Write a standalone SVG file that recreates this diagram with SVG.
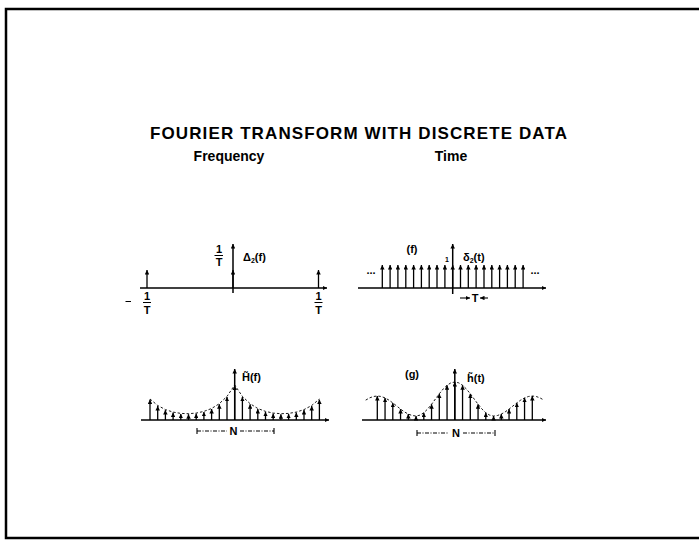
<svg xmlns="http://www.w3.org/2000/svg" width="699" height="540" viewBox="0 0 699 540">
<defs>
<marker id="ah" viewBox="0 0 6 6" refX="6" refY="3" markerWidth="4.5" markerHeight="4.5" markerUnits="userSpaceOnUse" orient="auto"><path d="M0,0 L6,3 L0,6 z" fill="#000"/></marker>
<style>
text{font-family:"Liberation Sans",Arial,sans-serif;font-weight:bold;fill:#000}
.ax{stroke:#000;stroke-width:1.5;fill:none;marker-end:url(#ah)}
.imp{stroke:#000;stroke-width:1.3;marker-end:url(#ah)}
.lbl{font-size:11px}
.frac{stroke:#000;stroke-width:1}
.env{fill:none;stroke:#000;stroke-width:0.9;stroke-dasharray:2.5 2}
.brk{stroke:#000;stroke-width:1.1;stroke-dasharray:4 1.5 1 1.5}
.tick{stroke:#000;stroke-width:1.1}
</style>
</defs>
<rect x="6" y="9" width="700" height="529" fill="#fff" stroke="#000" stroke-width="2.5"/>

<g id="title">
<text x="358.5" y="139" font-size="17" text-anchor="middle" textLength="417" lengthAdjust="spacing">FOURIER TRANSFORM WITH DISCRETE DATA</text>
<text x="229" y="161" font-size="14" text-anchor="middle">Frequency</text>
<text x="451" y="161" font-size="14" text-anchor="middle">Time</text>
<text class="lbl" x="412" y="253" text-anchor="middle">(f)</text>
<text class="lbl" x="412" y="378" text-anchor="middle">(g)</text>
</g>

<g id="delta-f">
<line class="ax" x1="140" y1="288" x2="327" y2="288"/>
<line class="ax" x1="233" y1="293" x2="233" y2="244"/>
<line class="imp" x1="147" y1="288" x2="147" y2="270"/>
<line class="imp" x1="233" y1="288" x2="233" y2="270"/>
<line class="imp" x1="318.5" y1="288" x2="318.5" y2="270"/>
<text class="lbl" x="243" y="261">Δ<tspan font-size="7" dy="2">2</tspan><tspan dy="-2">(f)</tspan></text>
<text class="lbl" x="219" y="253" text-anchor="middle">1</text>
<line class="frac" x1="214.5" y1="255.5" x2="223" y2="255.5"/>
<text class="lbl" x="219" y="266" text-anchor="middle">T</text>
<line class="frac" x1="125.5" y1="301.5" x2="131" y2="301.5"/>
<text class="lbl" x="147" y="300" text-anchor="middle">1</text>
<line class="frac" x1="143" y1="302.5" x2="151" y2="302.5"/>
<text class="lbl" x="147" y="313.5" text-anchor="middle">T</text>
<text class="lbl" x="318.5" y="300" text-anchor="middle">1</text>
<line class="frac" x1="314.5" y1="302.5" x2="322.5" y2="302.5"/>
<text class="lbl" x="318.5" y="313.5" text-anchor="middle">T</text>
</g>

<g id="delta-t">
<line class="ax" x1="358" y1="288" x2="546" y2="288"/>
<line class="ax" x1="452.7" y1="294" x2="452.7" y2="244"/>
<line class="imp" x1="382.3" y1="288" x2="382.3" y2="265"/>
<line class="imp" x1="390.1" y1="288" x2="390.1" y2="265"/>
<line class="imp" x1="397.9" y1="288" x2="397.9" y2="265"/>
<line class="imp" x1="405.8" y1="288" x2="405.8" y2="265"/>
<line class="imp" x1="413.6" y1="288" x2="413.6" y2="265"/>
<line class="imp" x1="421.4" y1="288" x2="421.4" y2="265"/>
<line class="imp" x1="429.2" y1="288" x2="429.2" y2="265"/>
<line class="imp" x1="437.0" y1="288" x2="437.0" y2="265"/>
<line class="imp" x1="444.9" y1="288" x2="444.9" y2="265"/>
<line class="imp" x1="452.7" y1="288" x2="452.7" y2="265"/>
<line class="imp" x1="460.5" y1="288" x2="460.5" y2="265"/>
<line class="imp" x1="468.3" y1="288" x2="468.3" y2="265"/>
<line class="imp" x1="476.1" y1="288" x2="476.1" y2="265"/>
<line class="imp" x1="484.0" y1="288" x2="484.0" y2="265"/>
<line class="imp" x1="491.8" y1="288" x2="491.8" y2="265"/>
<line class="imp" x1="499.6" y1="288" x2="499.6" y2="265"/>
<line class="imp" x1="507.4" y1="288" x2="507.4" y2="265"/>
<line class="imp" x1="515.2" y1="288" x2="515.2" y2="265"/>
<line class="imp" x1="523.1" y1="288" x2="523.1" y2="265"/>
<text x="447" y="262" font-size="7" text-anchor="middle">1</text>
<text class="lbl" x="463" y="261">δ<tspan font-size="7" dy="2">2</tspan><tspan dy="-2">(t)</tspan></text>
<text class="lbl" x="371" y="274" text-anchor="middle">...</text>
<text class="lbl" x="535" y="274" text-anchor="middle">...</text>
<line class="ax" x1="460" y1="298" x2="470" y2="298" style="stroke-width:1.1"/>
<text class="lbl" x="475" y="302" text-anchor="middle">T</text>
<line class="ax" x1="488" y1="298" x2="480" y2="298" style="stroke-width:1.1"/>
</g>

<g id="H-f">
<line class="ax" x1="141" y1="420" x2="329" y2="420"/>
<line class="ax" x1="234.7" y1="420" x2="234.7" y2="369"/>
<line class="imp" x1="150" y1="420" x2="150" y2="399.6"/>
<line class="imp" x1="157.7" y1="420" x2="157.7" y2="406"/>
<line class="imp" x1="165.4" y1="420" x2="165.4" y2="410.1"/>
<line class="imp" x1="173.1" y1="420" x2="173.1" y2="412.6"/>
<line class="imp" x1="180.8" y1="420" x2="180.8" y2="413.9"/>
<line class="imp" x1="188.5" y1="420" x2="188.5" y2="414.2"/>
<line class="imp" x1="196.2" y1="420" x2="196.2" y2="413.6"/>
<line class="imp" x1="203.9" y1="420" x2="203.9" y2="411.9"/>
<line class="imp" x1="211.6" y1="420" x2="211.6" y2="409"/>
<line class="imp" x1="219.3" y1="420" x2="219.3" y2="404.2"/>
<line class="imp" x1="227.0" y1="420" x2="227.0" y2="396.9"/>
<line class="imp" x1="234.7" y1="420" x2="234.7" y2="385.5"/>
<line class="imp" x1="242.4" y1="420" x2="242.4" y2="396.9"/>
<line class="imp" x1="250.1" y1="420" x2="250.1" y2="404.2"/>
<line class="imp" x1="257.8" y1="420" x2="257.8" y2="409"/>
<line class="imp" x1="265.5" y1="420" x2="265.5" y2="411.9"/>
<line class="imp" x1="273.2" y1="420" x2="273.2" y2="413.6"/>
<line class="imp" x1="280.9" y1="420" x2="280.9" y2="414.2"/>
<line class="imp" x1="288.6" y1="420" x2="288.6" y2="413.9"/>
<line class="imp" x1="296.3" y1="420" x2="296.3" y2="412.6"/>
<line class="imp" x1="304.0" y1="420" x2="304.0" y2="410.1"/>
<line class="imp" x1="311.7" y1="420" x2="311.7" y2="406"/>
<line class="imp" x1="319.4" y1="420" x2="319.4" y2="399.6"/>
<path class="env" d="M150,399 L157.7,405.5 165.4,409.6 173.1,412.1 180.8,413.4 188.5,413.7 196.2,413.1 203.9,411.4 211.6,408.5 219.3,403.7 227,396.4 234.7,385 242.4,396.4 250.1,403.7 257.8,408.5 265.5,411.4 273.2,413.1 280.9,413.7 288.6,413.4 296.3,412.1 304,409.6 311.7,405.5 319.4,399"/>
<text class="lbl" x="242" y="381">H̃(f)</text>
<line class="brk" x1="197" y1="431" x2="227" y2="431"/>
<line class="brk" x1="240" y1="431" x2="274" y2="431"/>
<line class="tick" x1="197" y1="428" x2="197" y2="434"/>
<line class="tick" x1="274" y1="428" x2="274" y2="434"/>
<text class="lbl" x="233.5" y="435" text-anchor="middle">N</text>
</g>

<g id="h-t">
<line class="ax" x1="362" y1="420" x2="546" y2="420"/>
<line class="ax" x1="454.8" y1="420" x2="454.8" y2="369"/>
<line class="imp" x1="377.3" y1="420" x2="377.3" y2="396"/>
<line class="imp" x1="385.05" y1="420" x2="385.05" y2="397.9"/>
<line class="imp" x1="392.8" y1="420" x2="392.8" y2="402.9"/>
<line class="imp" x1="400.55" y1="420" x2="400.55" y2="409.1"/>
<line class="imp" x1="408.3" y1="420" x2="408.3" y2="414.1"/>
<line class="imp" x1="416.05" y1="420" x2="416.05" y2="416"/>
<line class="imp" x1="423.8" y1="420" x2="423.8" y2="412.75"/>
<line class="imp" x1="431.55" y1="420" x2="431.55" y2="404.25"/>
<line class="imp" x1="439.3" y1="420" x2="439.3" y2="393.75"/>
<line class="imp" x1="447.05" y1="420" x2="447.05" y2="385.25"/>
<line class="imp" x1="454.8" y1="420" x2="454.8" y2="382"/>
<line class="imp" x1="462.55" y1="420" x2="462.55" y2="385.25"/>
<line class="imp" x1="470.3" y1="420" x2="470.3" y2="393.75"/>
<line class="imp" x1="478.05" y1="420" x2="478.05" y2="404.25"/>
<line class="imp" x1="485.8" y1="420" x2="485.8" y2="412.75"/>
<line class="imp" x1="493.55" y1="420" x2="493.55" y2="416"/>
<line class="imp" x1="501.3" y1="420" x2="501.3" y2="414.1"/>
<line class="imp" x1="509.05" y1="420" x2="509.05" y2="409.1"/>
<line class="imp" x1="516.8" y1="420" x2="516.8" y2="402.9"/>
<line class="imp" x1="524.55" y1="420" x2="524.55" y2="397.9"/>
<line class="imp" x1="532.3" y1="420" x2="532.3" y2="396"/>
<path class="env" d="M365.675,400.12 L369.55,397.91 373.425,396.49 377.3,396 381.175,396.49 385.05,397.91 388.925,400.12 392.8,402.91 396.675,406 400.55,409.09 404.425,411.88 408.3,414.09 412.175,415.51 416.05,416 419.925,415.17 423.8,412.75 427.675,408.99 431.55,404.25 435.425,399 439.3,393.75 443.175,389.01 447.05,385.25 450.925,382.83 454.8,382 458.675,382.83 462.55,385.25 466.425,389.01 470.3,393.75 474.175,399 478.05,404.25 481.925,408.99 485.8,412.75 489.675,415.17 493.55,416 497.425,415.51 501.3,414.09 505.175,411.88 509.05,409.09 512.925,406 516.8,402.91 520.675,400.12 524.55,397.91 528.425,396.49 532.3,396 536.175,396.49 540.05,397.91 543.925,400.12"/>
<text class="lbl" x="467" y="382">h̃(t)</text>
<line class="brk" x1="417" y1="433" x2="449" y2="433"/>
<line class="brk" x1="463" y1="433" x2="495" y2="433"/>
<line class="tick" x1="417" y1="430" x2="417" y2="436"/>
<line class="tick" x1="495" y1="430" x2="495" y2="436"/>
<text class="lbl" x="456" y="437" text-anchor="middle">N</text>
</g>
</svg>
